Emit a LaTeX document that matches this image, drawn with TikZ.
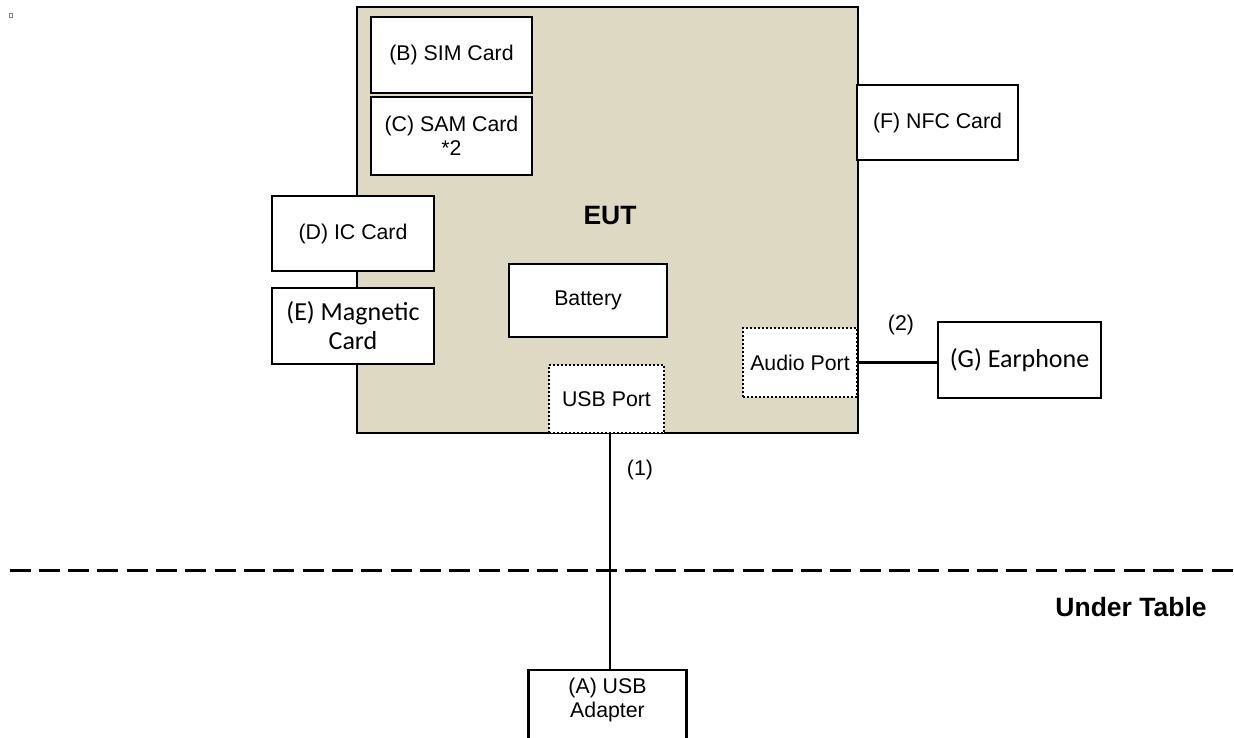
\documentclass[tikz,border=0pt]{standalone}
\usepackage{fontspec}
\setmainfont{Liberation Sans}
\newfontfamily\califont{Carlito}
\definecolor{euttan}{HTML}{DDD9C3}
\begin{document}
\begin{tikzpicture}[x=1pt,y=-1pt,
  box/.style={draw=black, line width=2.6pt, fill=white, inner sep=0pt, align=center,
    font=\fontsize{21.3}{24.5}\selectfont},
  portbox/.style={draw=black, line width=2pt, dotted, fill=white, inner sep=0pt, align=center,
    font=\fontsize{21.3}{24.5}\selectfont},
  conn/.style={draw=black, line width=2.4pt},
  lbl/.style={inner sep=0pt, font=\fontsize{21.3}{24.5}\selectfont},
  bigbold/.style={inner sep=0pt, font=\fontsize{26.5}{30}\selectfont\bfseries}
]
\useasboundingbox (0,0) rectangle (1234,738);
\fill[white] (0,0) rectangle (1234,738);
% tiny mark
\draw[gray, line width=0.6pt] (9.5,13.5) rectangle (12.5,17.5);
% EUT
\node[draw=black, line width=2.6pt, fill=euttan, minimum width=501pt, minimum height=426pt, inner sep=0pt] (eut) at (607.5,220) {};
\node[bigbold] (eutlbl) at (610,216) {EUT};
% cards
\node[box, minimum width=161pt, minimum height=76pt] (sim) at (451.5,55) {(B) SIM Card};
\node[box, minimum width=161pt, minimum height=78pt] (sam) at (451.5,136) {(C) SAM Card\\*2};
\node[box, minimum width=162pt, minimum height=75pt] (ic) at (353,233.5) {(D) IC Card};
\node[box, minimum width=162pt, minimum height=76pt, font=\califont\fontsize{26}{29}\selectfont] (mag) at (353,326) {(E) Magnetic\\Card};
\node[box, minimum width=161pt, minimum height=75pt] (nfc) at (937.5,122.5) {(F) NFC Card};
\node[box, minimum width=158pt, minimum height=73pt] (bat) at (588,300.5) {Battery};
% ports
\node[portbox, minimum width=115pt, minimum height=68pt] (usb) at (606.5,399) {USB Port};
\node[portbox, minimum width=114pt, minimum height=69pt] (audio) at (800,362.5) {Audio Port};
% earphone
\node[box, minimum width=163pt, minimum height=76pt, font=\califont\fontsize{26}{29}\selectfont] (ear) at (1019.5,360) {(G) Earphone};
% adapter (open at bottom, cut by page edge)
\node[inner sep=0pt, minimum width=158pt, minimum height=60pt] (adp) at (607.5,700) {};
\draw[black, line width=2.6pt, fill=white] ([yshift=-80pt]adp.north west) -- (adp.north west) -- (adp.north east) -- ([yshift=-80pt]adp.north east);
\node[inner sep=0pt, align=center, font=\fontsize{21.3}{24.5}\selectfont] (adptxt) at (607.5,700) {(A) USB\\Adapter};
% connectors
\draw[conn] (usb.south -| 610,0) -- (adp.north -| 610,0);
\draw[conn] (audio.east) -- (audio.east -| ear.west);
\node[lbl] (l1) at (640,470) {(1)};
\node[lbl] (l2) at (901,325) {(2)};
% under table line
\coordinate (dl) at (9.5,570);
\coordinate (dr) at (1234,570);
\draw[black, line width=3pt, dash pattern=on 21pt off 8.32pt] (dl) -- (dr);
\node[bigbold] (ut) at (1131,607) {Under Table};
\end{tikzpicture}
\end{document}
